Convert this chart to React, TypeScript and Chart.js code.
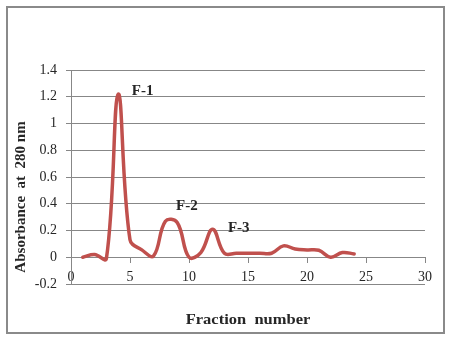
import React, { useEffect, useRef } from "react";
import { Chart, registerables } from "chart.js";

Chart.register(...registerables);

// Data
const fractions = [1, 2, 3, 4, 5, 6, 7, 8, 9, 10, 11, 12, 13, 14, 15, 16, 17, 18, 19, 20, 21, 22, 23, 24];
const absorbance = [0, 0.02, -0.01, 1.22, 0.13, 0.055, 0.01, 0.27, 0.26, 0.0, 0.035, 0.21, 0.03, 0.03, 0.03, 0.03, 0.03, 0.085, 0.062, 0.055, 0.052, 0.0, 0.035, 0.025];

const peakLabels = ["F-1", "F-2", "F-3"];
const peakLabelX = [5.15, 8.9, 13.3];
const peakLabelY = [1.242, 0.384, 0.22];

const xTitle = "Fraction  number";
const yTitle = "Absorbance  at  280 nm";

const X_MIN = 0, X_MAX = 30, X_STEP = 5;
const Y_MIN = -0.2, Y_MAX = 1.4, Y_STEP = 0.2;

const GRID = "#878787";
const TEXT = "#262626";
const SERIF = "'Liberation Serif', 'Times New Roman', serif";

const textPlugin = {
  id: "textPlugin",
  afterDraw(chart: any) {
    const ctx = chart.ctx;
    const xs = chart.scales.x;
    const ys = chart.scales.y;
    ctx.save();
    ctx.fillStyle = TEXT;
    // peak labels
    ctx.font = `bold 15px ${SERIF}`;
    ctx.textAlign = "left";
    ctx.textBaseline = "middle";
    peakLabels.forEach((t, i) => {
      ctx.fillText(t, xs.getPixelForValue(peakLabelX[i]), ys.getPixelForValue(peakLabelY[i]));
    });
    // x title
    const ca = chart.chartArea;
    ctx.save();
    ctx.translate((ca.left + ca.right) / 2, 320);
    ctx.scale(1.1, 1);
    ctx.font = `bold 15px ${SERIF}`;
    ctx.textAlign = "center";
    ctx.textBaseline = "middle";
    ctx.fillText(xTitle, 0, 0);
    ctx.restore();
    // y title
    ctx.save();
    ctx.translate(21, 197);
    ctx.rotate(-Math.PI / 2);
    ctx.font = `bold 15px ${SERIF}`;
    ctx.textAlign = "center";
    ctx.textBaseline = "middle";
    ctx.fillText(yTitle, 0, 0);
    ctx.restore();
    ctx.restore();
  },
};

export default function App() {
  const ref = useRef<HTMLCanvasElement | null>(null);
  useEffect(() => {
    if (!ref.current) return;
    const chart = new Chart(ref.current, {
      type: "line",
      data: {
        datasets: [
          {
            data: fractions.map((f, i) => ({ x: f, y: absorbance[i] })),
            borderColor: "#C0504D",
            borderWidth: 3.5,
            pointRadius: 0,
            tension: 0.4,
            fill: false,
            borderCapStyle: "round",
            borderJoinStyle: "round",
          },
        ],
      },
      options: {
        responsive: false,
        animation: false,
        devicePixelRatio: 1,
        layout: { padding: { left: 0, right: 25, top: 70, bottom: 53 } },
        plugins: { legend: { display: false }, tooltip: { enabled: false }, title: { display: false } },
        scales: {
          x: {
            type: "linear",
            position: { y: 0 },
            min: X_MIN,
            max: X_MAX,
            border: { display: true, color: GRID, width: 1 },
            grid: { drawOnChartArea: false, drawTicks: true, tickLength: 5, color: GRID },
            ticks: {
              stepSize: X_STEP,
              padding: 7,
              color: TEXT,
              font: { family: SERIF, size: 14 },
              maxRotation: 0,
              minRotation: 0,
            },
          },
          y: {
            type: "linear",
            min: Y_MIN,
            max: Y_MAX,
            afterFit: (s: any) => {
              s.width = 71;
            },
            border: { display: true, color: GRID, width: 1 },
            grid: { color: GRID, tickLength: 5, drawTicks: true },
            ticks: {
              stepSize: Y_STEP,
              padding: 9,
              color: TEXT,
              font: { family: SERIF, size: 14 },
              callback: (v: any) => String(parseFloat(Number(v).toFixed(1))),
            },
          },
        },
      },
      plugins: [textPlugin],
    } as any);
    return () => chart.destroy();
  }, []);

  return (
    <div style={{ position: "absolute", left: 0, top: 0, width: 450, height: 337, background: "#fff" }}>
      <canvas ref={ref} width={450} height={337} style={{ position: "absolute", left: 0, top: 0, width: 450, height: 337 }} />
      <div
        style={{
          position: "absolute",
          left: 6,
          top: 6,
          width: 439,
          height: 328,
          boxSizing: "border-box",
          border: "2px solid #8a8a8a",
          pointerEvents: "none",
        }}
      />
    </div>
  );
}
